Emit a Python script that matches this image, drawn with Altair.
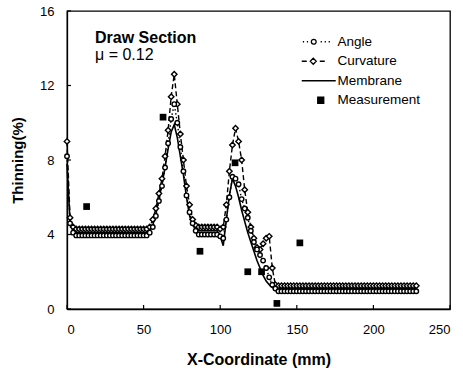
import altair as alt
import pandas as pd

FONT = "Liberation Sans"

# ---- data -------------------------------------------------------------
x_mm = [0, 2, 4, 6, 8, 10, 12, 14, 16, 18, 20, 22, 24, 26, 28, 30, 32, 34,
        36, 38, 40, 42, 44, 46, 48, 50, 52, 54, 56, 58, 60, 62, 64, 66, 68,
        70, 72, 74, 76, 78, 80, 82, 84, 86, 88, 90, 92, 94, 96, 98, 100, 102,
        104, 106, 108, 110, 112, 114, 116, 118, 120, 122, 124, 126, 128, 130,
        132, 134, 136, 138, 140, 142, 144, 146, 148, 150, 152, 154, 156, 158,
        160, 162, 164, 166, 168, 170, 172, 174, 176, 178, 180, 182, 184, 186,
        188, 190, 192, 194, 196, 198, 200, 202, 204, 206, 208, 210, 212, 214,
        216, 218, 220, 222, 224, 226, 228]

angle = [8.2, 4.6, 4.1,
         3.95, 3.95, 3.95, 3.95, 3.95, 3.95, 3.95, 3.95, 3.95, 3.95, 3.95, 3.95,
         3.95, 3.95, 3.95, 3.95, 3.95, 3.95, 3.95, 3.95, 3.95, 3.95, 3.95, 3.95,
         4.1, 4.4, 5.0, 5.8, 6.6, 7.6, 8.9, 10.2, 11.0, 10.0, 8.7, 7.4, 6.1, 5.2,
         4.6, 4.2,
         4.0, 4.0, 4.0, 4.0, 4.0, 4.0, 4.0,
         3.9, 3.8, 4.8, 6.0, 7.1, 7.0, 6.7, 5.9, 5.4, 4.9, 4.2, 3.6, 3.2, 2.9,
         2.6, 2.2, 1.7, 1.3,
         1.1,
         0.95, 0.95, 0.95, 0.95, 0.95, 0.95, 0.95, 0.95, 0.95, 0.95, 0.95, 0.95,
         0.95, 0.95, 0.95, 0.95, 0.95, 0.95, 0.95, 0.95, 0.95, 0.95, 0.95, 0.95,
         0.95, 0.95, 0.95, 0.95, 0.95, 0.95, 0.95, 0.95, 0.95, 0.95, 0.95, 0.95,
         0.95, 0.95, 0.95, 0.95, 0.95, 0.95, 0.95, 0.95, 0.95, 0.95]

curvature = [9.0, 4.9, 4.4,
             4.3, 4.3, 4.3, 4.3, 4.3, 4.3, 4.3, 4.3, 4.3, 4.3, 4.3, 4.3,
             4.3, 4.3, 4.3, 4.3, 4.3, 4.3, 4.3, 4.3, 4.3, 4.3, 4.3, 4.3,
             4.4, 4.8, 5.4, 6.2, 7.0, 8.2, 9.6, 11.4, 12.6, 11.0, 9.4, 8.0, 6.6,
             5.6, 4.8, 4.5,
             4.4, 4.4, 4.4, 4.4, 4.4, 4.4, 4.4,
             4.3, 4.4, 5.6, 7.4, 8.8, 9.7, 9.0, 8.0, 6.4, 5.2, 4.4, 3.8, 3.3,
             3.2, 3.5, 3.8, 3.9, 2.2,
             1.3,
             1.25, 1.25, 1.25, 1.25, 1.25, 1.25, 1.25, 1.25, 1.25, 1.25, 1.25,
             1.25, 1.25, 1.25, 1.25, 1.25, 1.25, 1.25, 1.25, 1.25, 1.25, 1.25,
             1.25, 1.25, 1.25, 1.25, 1.25, 1.25, 1.25, 1.25, 1.25, 1.25, 1.25,
             1.25, 1.25, 1.25, 1.25, 1.25, 1.25, 1.25, 1.25, 1.25, 1.25, 1.25,
             1.25, 1.25]

membrane = [7.8, 4.6, 4.2,
            4.1, 4.1, 4.1, 4.1, 4.1, 4.1, 4.1, 4.1, 4.1, 4.1, 4.1, 4.1,
            4.1, 4.1, 4.1, 4.1, 4.1, 4.1, 4.1, 4.1, 4.1, 4.1, 4.1, 4.1,
            4.2, 4.5, 5.1, 5.9, 6.7, 7.6, 8.6, 9.5, 9.9, 9.2, 8.2, 7.2, 6.0,
            5.0, 4.5, 4.3,
            4.2, 4.2, 4.2, 4.2, 4.2, 4.2, 4.2,
            3.9, 3.4, 4.8, 6.1, 7.0, 6.6, 6.0, 5.3, 4.7, 4.1, 3.6, 3.1, 2.6,
            2.2, 1.8, 1.5, 1.3, 1.15,
            1.1,
            1.1, 1.1, 1.1, 1.1, 1.1, 1.1, 1.1, 1.1, 1.1, 1.1, 1.1, 1.1, 1.1,
            1.1, 1.1, 1.1, 1.1, 1.1, 1.1, 1.1, 1.1, 1.1, 1.1, 1.1, 1.1, 1.1,
            1.1, 1.1, 1.1, 1.1, 1.1, 1.1, 1.1, 1.1, 1.1, 1.1, 1.1, 1.1, 1.1,
            1.1, 1.1, 1.1, 1.1, 1.1, 1.1, 1.1]

meas_x = [12.8, 62.7, 86.8, 109.7, 118.0, 127.0, 137.0, 152.0]
meas_y = [5.5, 10.3, 3.1, 7.85, 2.0, 2.0, 0.3, 3.55]

x_ticks = [0, 50, 100, 150, 200, 250]
y_ticks = [0, 4, 8, 12, 16]

series_names = ["Angle", "Curvature", "Membrane", "Measurement"]

# ---- layout -----------------------------------------------------------
W, H = 383, 298
X_TITLE = "X-Coordinate (mm)"
Y_TITLE = "Thinning(%)"

sim = pd.DataFrame({"x": x_mm, "angle": angle, "curv": curvature,
                    "memb": membrane})
meas = pd.DataFrame({"x": meas_x, "y": meas_y})
key = pd.DataFrame({"x": meas_x[:4], "y": meas_y[:4],
                    "series": series_names})
xt = pd.DataFrame({"t": x_ticks})
yt = pd.DataFrame({"t": y_ticks})

xs = alt.Scale(domain=[0, 250], nice=False, zero=False)
ys = alt.Scale(domain=[0, 16], nice=False)
x_axis = alt.Axis(values=x_ticks, labelPadding=14, titlePadding=15,
                  titleFontSize=16)
y_axis = alt.Axis(values=y_ticks, labelPadding=13, titlePadding=14,
                  titleFontSize=15)


def xe(field):
    return alt.X(field, type="quantitative", scale=xs, axis=x_axis,
                 title=X_TITLE)


def ye(field):
    return alt.Y(field, type="quantitative", scale=ys, axis=y_axis,
                 title=Y_TITLE)


base = alt.Chart(sim)

memb_line = base.mark_line(color="black", strokeWidth=1.6).encode(
    x=xe("x"), y=ye("memb"))
angle_line = base.mark_line(color="black", strokeWidth=1.4,
                            strokeDash=[1.5, 2.5]).encode(
    x=xe("x"), y=ye("angle"))
curv_line = base.mark_line(color="black", strokeWidth=1.4,
                           strokeDash=[5, 3]).encode(
    x=xe("x"), y=ye("curv"))
curv_pts = base.mark_point(shape="diamond", size=30, filled=True,
                           fill="white", stroke="black", strokeWidth=1.4,
                           opacity=1).encode(x=xe("x"), y=ye("curv"))
angle_pts = base.mark_point(shape="circle", size=20, filled=True,
                            fill="white", stroke="black", strokeWidth=1.4,
                            opacity=1).encode(x=xe("x"), y=ye("angle"))
meas_pts = alt.Chart(meas).mark_point(shape="square", size=45, filled=True,
                                      color="black", opacity=1).encode(
    x=xe("x"), y=ye("y"))

# inward tick marks on the bottom and left axes
x_tick_marks = alt.Chart(xt).mark_rule(color="black", strokeWidth=1.2).encode(
    x=xe("t"), y=alt.value(H), y2=alt.value(H - 4))
y_tick_marks = alt.Chart(yt).mark_rule(color="black", strokeWidth=1.2).encode(
    y=ye("t"), x=alt.value(0), x2=alt.value(4))

# legend key glyphs (line + marker), drawn as custom symbol paths that
# extend to the left of the nominal symbol box
glyphs = [
    "M-5.58,0H-5.33M-4.78,0H-4.53M-3.88,0A0.48,0.48 0 1,1 -2.92,0"
    "A0.48,0.48 0 1,1 -3.88,0ZM-2.02,0H-1.77M-1.22,0H-0.97M-0.42,0H-0.17",
    "M-5.8,0H-4.8M-4.1,0L-3.5,-0.6L-2.9,0L-3.5,0.6ZM-2.2,0H-1.2",
    "M-5.8,0H1.0",
    "M-2.6,-0.6H-1.4V0.6H-2.6Z",
]
legend_layer = alt.Chart(key).mark_point(
    filled=True, strokeWidth=1.3, opacity=0
).encode(
    x=xe("x"), y=ye("y"),
    shape=alt.Shape("series:N",
                    scale=alt.Scale(domain=series_names, range=glyphs),
                    legend=alt.Legend(title=None)),
    fill=alt.Fill("series:N",
                  scale=alt.Scale(domain=series_names,
                                  range=["white", "white", "white", "black"]),
                  legend=alt.Legend(title=None)),
    stroke=alt.Stroke("series:N",
                      scale=alt.Scale(domain=series_names,
                                      range=["black", "black", "black",
                                             "black"]),
                      legend=alt.Legend(title=None)),
)

# panel annotation
title_txt = alt.Chart(pd.DataFrame({"s": ["Draw Section"]})).mark_text(
    align="left", baseline="alphabetic", font=FONT, fontSize=16,
    fontWeight="bold", color="black"
).encode(text="s:N", x=alt.value(28), y=alt.value(32))
mu_txt = alt.Chart(pd.DataFrame({"s": ["\u03bc = 0.12"]})).mark_text(
    align="left", baseline="alphabetic", font=FONT, fontSize=16,
    color="black"
).encode(text="s:N", x=alt.value(28), y=alt.value(49))

chart = alt.layer(
    memb_line, angle_line, curv_line, curv_pts, angle_pts, meas_pts,
    x_tick_marks, y_tick_marks, legend_layer, title_txt, mu_txt
).properties(
    width=W, height=H,
    padding={"left": 67, "top": 11, "right": 13, "bottom": 62},
    autosize=alt.AutoSizeParams(type="none"),
    background="white",
).configure_view(
    stroke="black", strokeWidth=1.3
).configure_axis(
    domainColor="black", domainWidth=1.3, grid=False, ticks=False,
    labelFont=FONT, labelFontSize=13, labelColor="black",
    titleFont=FONT, titleFontWeight="bold", titleColor="black",
).configure_legend(
    orient="none", legendX=257, legendY=24, padding=0,
    labelFont=FONT, labelFontSize=13.5, labelColor="black", labelOffset=0,
    symbolSize=100, symbolStrokeWidth=1.3, symbolOpacity=1, rowPadding=4.5,
)

chart.save("out.html", embed_options={"renderer": "svg", "actions": False})
